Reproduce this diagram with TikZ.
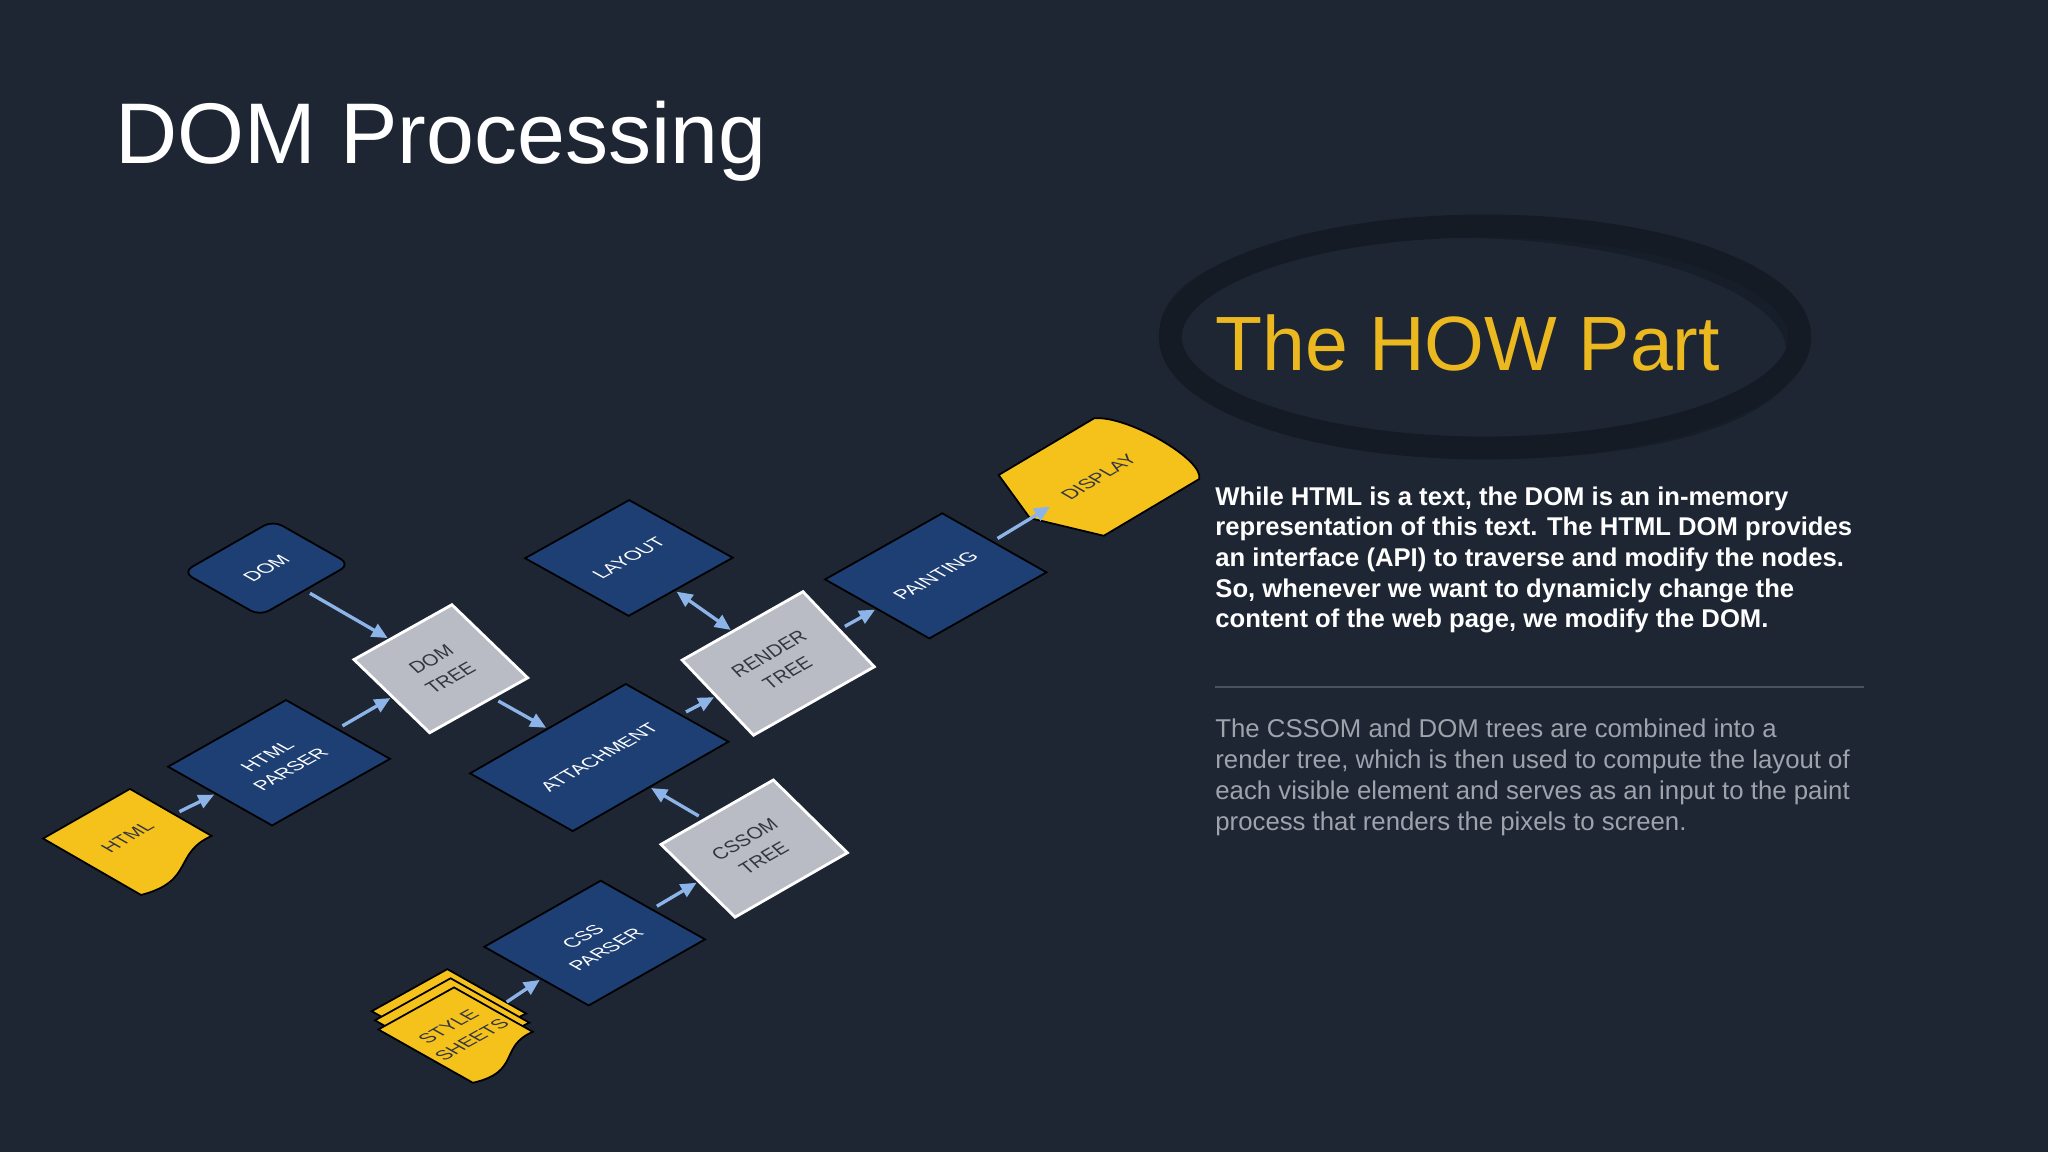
\documentclass[tikz,border=0pt]{standalone}
\usepackage{fontspec}
\setmainfont{Liberation Sans}
\usetikzlibrary{arrows.meta}
\definecolor{bg}{HTML}{1E2633}
\definecolor{ringc}{HTML}{141B25}
\definecolor{bluef}{HTML}{1D3F73}
\definecolor{grayf}{HTML}{B9BBC5}
\definecolor{yell}{HTML}{F5C21C}
\definecolor{gold}{HTML}{ECB820}
\definecolor{arrowc}{HTML}{8DB4E8}
\definecolor{para}{HTML}{9EA3AC}
\definecolor{rulec}{HTML}{4A5260}
\definecolor{dtext}{HTML}{333640}
\newcommand\frm[4]{%
  \pgfmathsetmacro\Fpl{veclen(#1,#2)}%
  \pgfmathsetmacro\Fql{veclen(#3,#4)}%
  \pgfmathsetmacro\Fpa{(#1)/\Fpl}%
  \pgfmathsetmacro\Fpb{-(#2)/\Fpl}%
  \pgfmathsetmacro\Fqa{-(#3)/\Fql}%
  \pgfmathsetmacro\Fqb{(#4)/\Fql}}
\newcommand\lblfont{\fontsize{5.4}{7.6}\selectfont}
\tikzset{
  frame/.style={cm={\Fpa,\Fpb,\Fqa,\Fqb,(0,0)}},
  box/.style={rectangle, inner sep=0pt, transform shape, align=center, font=\lblfont,
    minimum width=\Fpl*0.01306cm, minimum height=\Fql*0.01306cm},
  bluebox/.style={box, fill=bluef, draw=black, line width=0.5pt, text=white},
  graybox/.style={box, fill=grayf, draw=white, line width=0.8pt, text=dtext},
  ghost/.style={box, draw=none, text=dtext},
  docfill/.style={fill=yell, draw=black, line width=0.5pt},
  arr/.style={-{Triangle[length=4.5pt,width=4pt]}, line width=0.95pt, draw=arrowc,
    shorten <=1.5pt, shorten >=0.3pt},
  darr/.style={{Triangle[length=4.5pt,width=4pt]}-{Triangle[length=4.5pt,width=4pt]},
    line width=0.95pt, draw=arrowc, shorten <=0.5pt, shorten >=0.3pt}
}
\begin{document}
\begin{tikzpicture}[x=0.01306cm,y=-0.01306cm]
\fill[bg] (0,0) rectangle (1568,882);
\useasboundingbox (0,0) rectangle (1568,882);

% title
\node[anchor=base west, inner sep=0, text=white, font=\fontsize{24.5}{29}\selectfont] (title) at (88,125) {DOM Processing};

% ring
\draw[ringc, line width=6.5pt] (1137,258) ellipse [x radius=241, y radius=85];
\draw[ringc, line width=4pt, opacity=0.7, rotate around={-2:(1133,261)}] (1133,261) ellipse [x radius=240, y radius=84];
\node[anchor=base west, inner sep=0, text=gold, font=\fontsize{21.9}{26}\selectfont] (how) at (930,284) {The HOW Part};

% paragraphs
\node[anchor=north west, inner sep=0, text=white, align=left, font=\fontsize{7.3}{8.73}\selectfont\bfseries] (p1) at (930,372)
{While HTML is a text, the DOM is an in-memory\\representation of this text. The HTML DOM provides\\an interface (API) to traverse and modify the nodes.\\So, whenever we want to dynamicly change the\\content of the web page, we modify the DOM.};
\draw[rulec, line width=0.4pt] (930,526) -- (1427,526);
\node[anchor=north west, inner sep=0, text=para, align=left, font=\fontsize{7.33}{8.8}\selectfont] (p2) at (930,550)
{The CSSOM and DOM trees are combined into a\\render tree, which is then used to compute the layout of\\each visible element and serves as an input to the paint\\process that renders the pixels to screen.};

% HTML document
\frm{66.5}{-38}{62.5}{36}
\begin{scope}[shift={(33,642)}, frame]
  \path[docfill] (0,0) -- (\Fpl,0) -- (\Fpl,\Fql) .. controls ({0.6*\Fpl},{0.95*\Fql}) and ({0.45*\Fpl},{1.38*\Fql}) .. (0,{1.2*\Fql}) -- cycle;
  \node[ghost] (html) at ({\Fpl/2},{\Fql/2}) {HTML};
\end{scope}

% HTML PARSER
\frm{90.3}{-51}{79.6}{45}
\begin{scope}[shift={(128.7,587)}, frame]
  \node[bluebox] (hp) at ({\Fpl/2},{\Fql/2}) {HTML\\PARSER};
\end{scope}

% DOM
\frm{69}{-39.5}{59}{33.5}
\begin{scope}[shift={(140,438)}, frame]
  \node[bluebox, rounded corners=3pt] (dom) at ({\Fpl/2},{\Fql/2}) {DOM};
\end{scope}

% DOM TREE
\frm{75}{-42}{58}{56}
\begin{scope}[shift={(271,505)}, frame]
  \node[graybox] (dt) at ({\Fpl/2},{\Fql/2}) {DOM\\TREE};
\end{scope}

% LAYOUT
\frm{79.7}{-44.5}{79.3}{44.1}
\begin{scope}[shift={(402,427.4)}, frame]
  \node[bluebox] (layout) at ({\Fpl/2},{\Fql/2}) {LAYOUT};
\end{scope}

% ATTACHMENT
\frm{119.2}{-68.4}{78.6}{44.2}
\begin{scope}[shift={(359.9,592.1)}, frame]
  \node[bluebox] (att) at ({\Fpl/2},{\Fql/2}) {ATTACHMENT};
\end{scope}

% RENDER TREE
\frm{92.5}{-52.4}{54.6}{57.5}
\begin{scope}[shift={(522.3,505.4)}, frame]
  \node[graybox] (rt) at ({\Fpl/2},{\Fql/2}) {RENDER\\TREE};
\end{scope}

% PAINTING
\frm{89.7}{-50.6}{79.8}{45.2}
\begin{scope}[shift={(631.7,443.6)}, frame]
  \node[bluebox] (paint) at ({\Fpl/2},{\Fql/2}) {PAINTING};
\end{scope}

% DISPLAY
\frm{73}{-43.4}{80.5}{46.5}
\begin{scope}[shift={(764.6,363.7)}, frame]
  \path[docfill] (0,0) -- (\Fpl,0) .. controls ({\Fpl+17},12) and ({\Fpl+17},{\Fql-12}) .. (\Fpl,\Fql) -- (0,\Fql) -- (-19,{\Fql/2}) -- cycle;
  \node[ghost] (disp) at ({\Fpl/2},{\Fql/2}) {DISPLAY};
\end{scope}

% CSSOM TREE
\frm{86}{-49.3}{56.7}{55.7}
\begin{scope}[shift={(506.1,646.5)}, frame]
  \node[graybox] (cssom) at ({\Fpl/2},{\Fql/2}) {CSSOM\\TREE};
\end{scope}

% CSS PARSER
\frm{89.1}{-50.6}{79.9}{44.9}
\begin{scope}[shift={(370.8,724.9)}, frame]
  \node[bluebox] (cssp) at ({\Fpl/2},{\Fql/2}) {CSS\\PARSER};
\end{scope}

% STYLE SHEETS
\frm{57.9}{-32.2}{60.3}{34}
\begin{scope}[shift={(284.6,774.2)}, frame]
  \path[docfill] (0,0) -- (\Fpl,0) -- (\Fpl,\Fql) .. controls ({0.6*\Fpl},{0.95*\Fql}) and ({0.45*\Fpl},{1.38*\Fql}) .. (0,{1.2*\Fql}) -- cycle;
\end{scope}
\begin{scope}[shift={(287.1,781.2)}, frame]
  \path[docfill] (0,0) -- (\Fpl,0) -- (\Fpl,\Fql) .. controls ({0.6*\Fpl},{0.95*\Fql}) and ({0.45*\Fpl},{1.38*\Fql}) .. (0,{1.2*\Fql}) -- cycle;
\end{scope}
\begin{scope}[shift={(289.7,788.2)}, frame]
  \path[docfill] (0,0) -- (\Fpl,0) -- (\Fpl,\Fql) .. controls ({0.6*\Fpl},{0.95*\Fql}) and ({0.45*\Fpl},{1.38*\Fql}) .. (0,{1.2*\Fql}) -- cycle;
  \node[ghost] (ss) at ({\Fpl/2},{\Fql/2+4}) {STYLE\\SHEETS};
\end{scope}

% connectors
\draw[arr] (html) -- (hp);
\draw[arr] (hp) -- (dt);
\draw[arr] (dom) -- (dt);
\draw[arr] (dt) -- (att);
\draw[arr] (att) -- (rt);
\draw[arr] (cssom) -- (att);
\draw[darr] (layout) -- (rt);
\draw[arr] (rt) -- (paint);
\draw[arr] (paint) -- (disp);
\draw[arr] (cssp) -- (cssom);
\draw[arr, shorten <=4pt] (ss) -- (cssp);
\end{tikzpicture}
\end{document}
